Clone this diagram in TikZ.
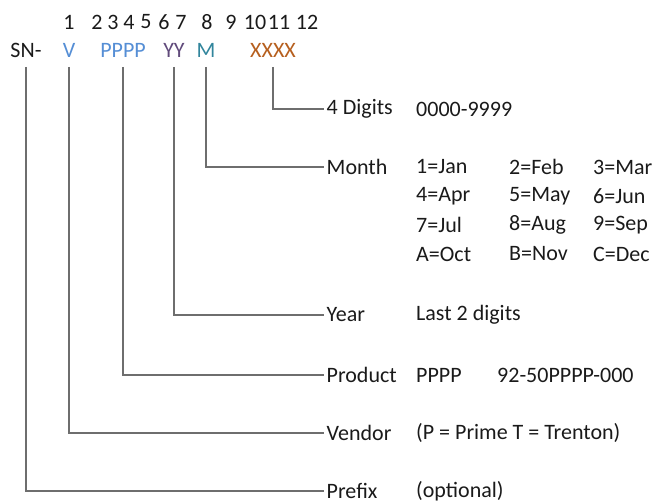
\documentclass[tikz,border=0pt]{standalone}
\usepackage{fontspec}
\setmainfont{Carlito}
\definecolor{cblue}{HTML}{558ED5}
\definecolor{cpurple}{HTML}{604A7B}
\definecolor{cteal}{HTML}{31859C}
\definecolor{corange}{HTML}{B65F1E}
\definecolor{ctext}{HTML}{1A1A1A}
\definecolor{cline}{HTML}{6E6E6E}
\begin{document}
\begin{tikzpicture}[x=1bp,y=-1bp,
  every node/.style={inner sep=0pt,font=\fontsize{22bp}{26bp}\selectfont,text=ctext},
  digit/.style={anchor=center},
  code/.style={anchor=center},
  lbl/.style={anchor=west,inner xsep=2.5bp},
  val/.style={anchor=west},
  conn/.style={draw=cline,line width=1.4bp}]
\useasboundingbox (0,0) rectangle (660,504);
% position digits
\node[digit] (d1) at (69,22) {1};
\node[digit] (d2) at (97,22) {2};
\node[digit] (d3) at (113,22) {3};
\node[digit] (d4) at (129,22) {4};
\node[digit] (d5) at (146,22) {5};
\node[digit] (d6) at (164,22) {6};
\node[digit] (d7) at (181,22) {7};
\node[digit] (d8) at (207,22) {8};
\node[digit] (d9) at (231,22) {9};
\node[digit] (d10) at (255,22) {10};
\node[digit] (d11) at (279,22) {11};
\node[digit] (d12) at (307,22) {12};
% code letters
\node[code] (sn) at (26,50) {SN-};
\node[code,text=cblue] (v) at (69,50) {V};
\node[code,text=cblue] (p) at (123,50) {PPPP};
\node[code,text=cpurple] (y) at (174,50) {YY};
\node[code,text=cteal] (m) at (206,50) {M};
\node[code,text=corange] (x) at (273,50) {XXXX};
\coordinate (top) at (0,67);
% labels
\node[lbl] (ldig) at (324,109) {4 Digits};
\node[lbl] (lmon) at (324,167) {Month};
\node[lbl] (lyear) at (324,315) {Year};
\node[lbl] (lprod) at (324,375) {Product};
\node[lbl] (lven) at (324,433) {Vendor};
\node[lbl] (lpre) at (324,491) {Prefix};
% values
\node[val] (vdig) at (416,109) {0000-9999};
\node[val] (m1) at (416,167) {1=Jan};
\node[val] (m2) at (509,167) {2=Feb};
\node[val] (m3) at (593,167) {3=Mar};
\node[val] (m4) at (416,196) {4=Apr};
\node[val] (m5) at (509,196) {5=May};
\node[val] (m6) at (593,196) {6=Jun};
\node[val] (m7) at (416,225) {7=Jul};
\node[val] (m8) at (509,225) {8=Aug};
\node[val] (m9) at (593,225) {9=Sep};
\node[val] (m10) at (416,254) {A=Oct};
\node[val] (m11) at (509,254) {B=Nov};
\node[val] (m12) at (593,254) {C=Dec};
\node[val] (vyear) at (416,315) {Last 2 digits};
\node[val] (vprod) at (416,375) {PPPP};
\node[val] (vprod2) at (497,375) {92-50PPPP-000};
\node[val] (vven) at (416,433) {(P = Prime T = Trenton)};
\node[val] (vpre) at (416,491) {(optional)};
% connectors
\draw[conn] (x |- top) |- (ldig.west);
\draw[conn] (m |- top) |- (lmon.west);
\draw[conn] (y |- top) |- (lyear.west);
\draw[conn] (p |- top) |- (lprod.west);
\draw[conn] (v |- top) |- (lven.west);
\draw[conn] (sn |- top) |- (lpre.west);
\end{tikzpicture}
\end{document}
